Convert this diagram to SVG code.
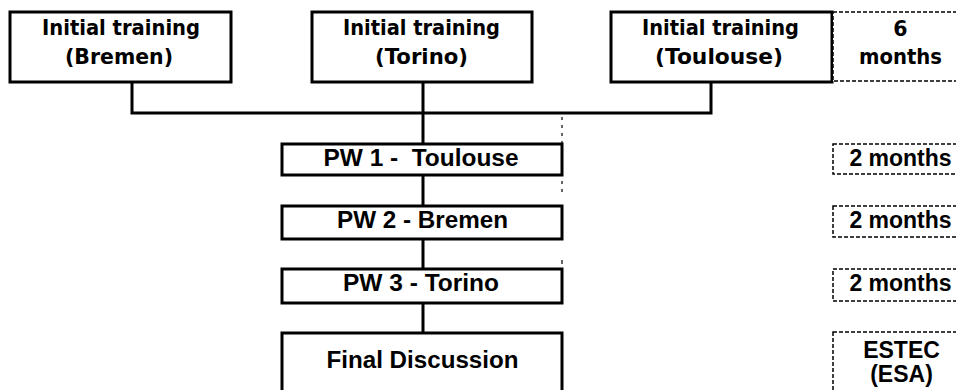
<svg xmlns="http://www.w3.org/2000/svg" width="956" height="390" viewBox="0 0 956 390">
<style>
.box{fill:#fff;stroke:#000;stroke-width:3}
.dbox{fill:#fff;stroke:#000;stroke-width:1.5;stroke-dasharray:4 2}
.conn{fill:none;stroke:#000;stroke-width:3}
.t1{font-family:"DejaVu Sans",Verdana,sans-serif;font-weight:bold;font-size:20.5px;fill:#000;text-anchor:middle}
.t2{font-family:"Liberation Sans",Arial,sans-serif;font-weight:bold;font-size:23px;fill:#000;text-anchor:middle;white-space:pre}
</style>
<rect width="956" height="390" fill="#fff"/>
<g id="connectors">
<path class="conn" d="M132 82V113H711V82"/>
<path class="conn" d="M423 82V333"/>
<path d="M562 117V192" fill="none" stroke="#000" stroke-width="1.2" stroke-dasharray="3 5"/>
<path d="M562 260V264" fill="none" stroke="#000" stroke-width="1.2"/>
</g>
<g id="init-bremen">
<rect class="box" x="10" y="12" width="221" height="70"/>
<text class="t1" x="121" y="35" textLength="158" lengthAdjust="spacingAndGlyphs">Initial training</text>
<text class="t1" x="119" y="64" textLength="108" lengthAdjust="spacingAndGlyphs">(Bremen)</text>
</g>
<g id="init-torino">
<rect class="box" x="312" y="12" width="220" height="70"/>
<text class="t1" x="421.5" y="35" textLength="157" lengthAdjust="spacingAndGlyphs">Initial training</text>
<text class="t1" x="421.5" y="64" textLength="93" lengthAdjust="spacingAndGlyphs">(Torino)</text>
</g>
<g id="init-toulouse">
<rect class="box" x="611" y="12" width="221" height="70"/>
<text class="t1" x="720.5" y="35" textLength="157" lengthAdjust="spacingAndGlyphs">Initial training</text>
<text class="t1" x="719" y="64" textLength="128" lengthAdjust="spacingAndGlyphs">(Toulouse)</text>
</g>
<g id="dur-6">
<rect class="dbox" x="833" y="12" width="136" height="69"/>
<text class="t1" x="900.5" y="36">6</text>
<text class="t1" x="900.5" y="64" textLength="83" lengthAdjust="spacingAndGlyphs">months</text>
</g>
<g id="pw1">
<rect class="box" x="282" y="144" width="280" height="31"/>
<text class="t2" x="421" y="166" textLength="195" lengthAdjust="spacingAndGlyphs" xml:space="preserve">PW 1 -  Toulouse</text>
</g>
<g id="pw2">
<rect class="box" x="282" y="206" width="280" height="33"/>
<text class="t2" x="422.5" y="228" textLength="171" lengthAdjust="spacingAndGlyphs">PW 2 - Bremen</text>
</g>
<g id="pw3">
<rect class="box" x="282" y="269" width="280" height="34"/>
<text class="t2" x="421" y="291" textLength="156" lengthAdjust="spacingAndGlyphs">PW 3 - Torino</text>
</g>
<g id="final">
<rect class="box" x="282" y="333" width="280" height="70"/>
<text class="t2" x="422.5" y="368" textLength="192" lengthAdjust="spacingAndGlyphs">Final Discussion</text>
</g>
<g id="dur-pw1">
<rect class="dbox" x="833" y="144" width="136" height="30"/>
<text class="t2" x="900.5" y="166">2 months</text>
</g>
<g id="dur-pw2">
<rect class="dbox" x="833" y="206" width="136" height="31"/>
<text class="t2" x="900.5" y="228">2 months</text>
</g>
<g id="dur-pw3">
<rect class="dbox" x="833" y="269" width="136" height="32"/>
<text class="t2" x="900.5" y="291">2 months</text>
</g>
<g id="dur-final">
<rect class="dbox" x="833" y="332" width="136" height="70"/>
<text class="t2" x="901.5" y="358">ESTEC</text>
<text class="t2" x="901.5" y="382">(ESA)</text>
</g>
</svg>
